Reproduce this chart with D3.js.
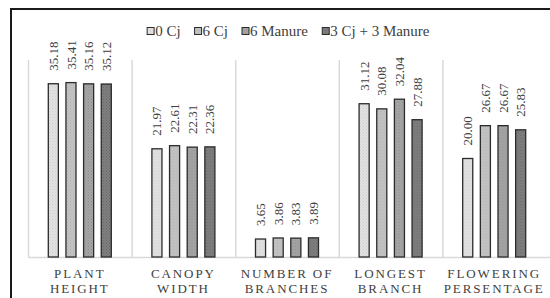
<!DOCTYPE html>
<html>
<head>
<meta charset="utf-8">
<script src="https://cdn.jsdelivr.net/npm/d3@7"></script>
<style>
  body { margin: 0; background: #fff; }
</style>
</head>
<body>
<div id="chart"></div>
<script>
// Chart data
const categories = [["PLANT", "HEIGHT"], ["CANOPY", "WIDTH"], ["NUMBER OF", "BRANCHES"], ["LONGEST", "BRANCH"], ["FLOWERING", "PERSENTAGE"]];
const series = ["0 Cj", "6 Cj", "6 Manure", "3 Cj + 3 Manure"];
const cj0 = [35.18, 21.97, 3.65, 31.12, 20.00];
const cj6 = [35.41, 22.61, 3.86, 30.08, 26.67];
const manure6 = [35.16, 22.31, 3.83, 32.04, 26.67];
const mixed = [35.12, 22.36, 3.89, 27.88, 25.83];
const values = [cj0, cj6, manure6, mixed];

const width = 550, height = 298;
const margin = { top: 60, left: 28, right: 4, bottom: 41 };
const serif = "'Liberation Serif', serif";

const svg = d3.select("#chart").append("svg")
    .attr("width", width)
    .attr("height", height)
    .attr("font-family", serif);

// fill patterns, light to dark
const fills = ["#e2e2e2", "#c4c4c4", "#a6a6a6", "#808080"];
const dots = ["#cfcfcf", "#b0b0b0", "#8e8e8e", "#666"];
const defs = svg.append("defs");
fills.forEach((c, i) => {
    const p = defs.append("pattern")
        .attr("id", "pat" + i)
        .attr("width", 3).attr("height", 3)
        .attr("patternUnits", "userSpaceOnUse");
    p.append("rect").attr("width", 3).attr("height", 3).attr("fill", c);
    p.append("rect").attr("width", 1).attr("height", 1).attr("fill", dots[i]);
    p.append("rect").attr("x", 1.5).attr("y", 1.5).attr("width", 1).attr("height", 1).attr("fill", dots[i]);
});

// outer frame (cropped on the right and bottom)
svg.append("rect")
    .attr("x", 11).attr("y", 9)
    .attr("width", 700).attr("height", 500)
    .attr("fill", "none")
    .attr("stroke", "#1a1a1a")
    .attr("stroke-width", 2);

const x0 = d3.scaleBand()
    .domain(d3.range(categories.length))
    .range([margin.left, width - margin.right]);

const x1 = d3.scaleBand()
    .domain(d3.range(series.length))
    .range([0, x0.bandwidth()])
    .paddingInner(0.43)
    .paddingOuter(1.15);

const y = d3.scaleLinear()
    .domain([0, 40])
    .range([height - margin.bottom, margin.top]);

// category separators
svg.append("g")
    .selectAll("line")
    .data(d3.range(categories.length))
    .join("line")
    .attr("x1", d => x0(d) + 0.5)
    .attr("x2", d => x0(d) + 0.5)
    .attr("y1", y(40))
    .attr("y2", y(0))
    .attr("stroke", "#d9d9d9")
    .attr("stroke-width", 1.5);

// baseline
svg.append("line")
    .attr("x1", margin.left)
    .attr("x2", width)
    .attr("y1", y(0) + 0.5)
    .attr("y2", y(0) + 0.5)
    .attr("stroke", "#d9d9d9")
    .attr("stroke-width", 1.5);

// bars
const groups = svg.append("g")
    .selectAll("g")
    .data(categories.map((c, i) => i))
    .join("g")
    .attr("transform", d => `translate(${x0(d)},0)`);

groups.selectAll("rect")
    .data(ci => values.map((v, si) => ({ si, v: v[ci] })))
    .join("rect")
    .attr("x", d => x1(d.si))
    .attr("y", d => y(d.v))
    .attr("width", x1.bandwidth())
    .attr("height", d => y(0) - y(d.v))
    .attr("fill", d => `url(#pat${d.si})`)
    .attr("stroke", "#2b2b2b")
    .attr("stroke-width", 1.3);

// value labels
groups.selectAll("text")
    .data(ci => values.map((v, si) => ({ si, v: v[ci] })))
    .join("text")
    .attr("transform", d => `translate(${x1(d.si) + x1.bandwidth() / 2},${y(d.v) - 13}) rotate(-90)`)
    .attr("dy", "0.35em")
    .attr("font-size", 13)
    .attr("fill", "#404040")
    .text(d => d.v.toFixed(2));

// category labels
const catLabels = svg.append("g")
    .selectAll("text")
    .data(categories)
    .join("text")
    .attr("text-anchor", "middle")
    .attr("font-size", 13)
    .attr("fill", "#404040")
    .attr("letter-spacing", "1.9px");

catLabels.selectAll("tspan")
    .data((d, i) => d.map(t => ({ t, i })))
    .join("tspan")
    .attr("x", d => x0(d.i) + x0.bandwidth() / 2)
    .attr("y", (d, j) => 278 + j * 14.5)
    .text(d => d.t);

// legend
const legend = svg.append("g");
const items = legend.selectAll("g")
    .data(series)
    .join("g");
items.append("rect")
    .attr("y", 27.5)
    .attr("width", 7).attr("height", 7)
    .attr("fill", (d, i) => `url(#pat${i})`)
    .attr("stroke", "#2b2b2b")
    .attr("stroke-width", 1);
items.append("text")
    .attr("x", 8)
    .attr("y", 36)
    .attr("font-size", 15)
    .attr("fill", "#404040")
    .text(d => d);

function layoutLegend() {
    let cursor = 0;
    items.each(function () {
        const w = d3.select(this).select("text").node().getBBox().width;
        d3.select(this).attr("transform", `translate(${cursor},0)`);
        cursor += 8 + w + 14;
    });
    const total = cursor - 14;
    legend.attr("transform", `translate(${288.5 - total / 2},0)`);
}
layoutLegend();
if (document.fonts) document.fonts.ready.then(layoutLegend);
</script>
</body>
</html>
